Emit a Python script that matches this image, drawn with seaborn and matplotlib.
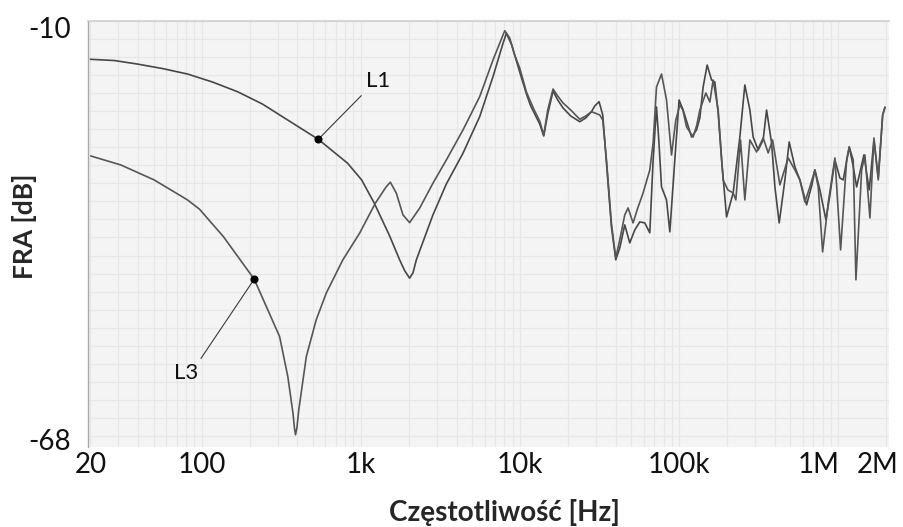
import matplotlib
matplotlib.use('Agg')
import numpy as np
import pandas as pd
import seaborn as sns
import matplotlib.pyplot as plt
from matplotlib.ticker import FixedLocator, LogLocator, NullFormatter
from matplotlib.transforms import ScaledTranslation

## FRA curves (frequency in Hz, amplitude in dB)
l1_freq = [20, 28.3, 39.5, 56.7, 81.5, 117, 168, 241, 347, 541, 827, 1013, 1217,
           1519, 1756, 1888, 2029, 2130, 2236, 2843, 3452, 4391, 5592, 6780, 7837,
           8231, 8890, 9980, 11000, 11700, 12400, 13330, 14130, 14970, 16170, 17300,
           18690, 20890, 23800, 25960, 28190, 29570, 31470, 33200, 35030, 37650,
           40080, 42470, 45640, 49080, 52770, 56740, 61010, 65580, 68800, 72260,
           74700, 77700, 83540, 87630, 94190, 100200, 106200, 120000, 129000,
           135300, 141900, 150400, 160300, 168100, 176400, 185300, 199200, 219100,
           241400, 259500, 279100, 292700, 314700, 338300, 355400, 382200, 400900,
           426600, 463400, 492900, 535500, 575600, 634200, 684800, 715300, 769000,
           838900, 888900, 955600, 1027000, 1077500, 1175500, 1240000, 1308300,
           1392600, 1454000, 1570000, 1681000, 1789000, 1907000, 1971000]
l1_db = [-15.30, -15.47, -15.96, -16.58, -17.34, -18.45, -19.79, -21.50, -23.71,
         -26.39, -29.71, -32.02, -35.25, -39.78, -43.10, -44.60, -45.64, -44.90,
         -43.10, -36.87, -32.58, -28.32, -23.25, -17.71, -13.09, -11.70, -13.32,
         -17.06, -20.11, -21.77, -22.88, -24.27, -25.93, -22.88, -19.70, -20.94,
         -22.05, -23.16, -23.95, -23.43, -22.56, -21.77, -21.18, -23.02, -29.67,
         -38.53, -43.10, -41.44, -38.25, -40.75, -38.95, -37.84, -37.98, -39.36,
         -29.25, -21.91, -26.48, -32.99, -34.79, -39.22, -29.25, -20.94, -22.33,
         -26.07, -25.10, -23.43, -19.14, -16.09, -18.17, -18.45, -22.74, -29.25,
         -37.15, -33.82, -26.07, -18.86, -22.33, -26.07, -27.87, -26.48, -22.33,
         -26.90, -32.99, -37.98, -32.02, -26.76, -30.22, -32.02, -35.48, -32.71,
         -30.64, -33.41, -37.56, -34.10, -29.25, -31.75, -32.02, -27.45, -29.94,
         -32.99, -30.36, -28.56, -33.41, -26.48, -31.75, -23.02, -21.91]

l3_freq = [20.1, 31.0, 50.3, 81.5, 97.0, 137, 214, 255, 309, 348, 375, 383, 389,
           397, 408, 455, 525, 607, 772, 984, 1235, 1448, 1535, 1674, 1842, 2029,
           2345, 2843, 3452, 4391, 5592, 6780, 8033, 8636, 9284, 9980, 11000,
           11700, 12400, 13330, 14130, 14970, 16170, 17300, 18690, 20890, 23800,
           25960, 28190, 29570, 31790, 33200, 35030, 37650, 40080, 42470, 45640,
           47890, 51480, 55120, 59530, 65580, 68800, 72260, 77700, 83540, 89800,
           95560, 101250, 105800, 111600, 117000, 122800, 129500, 135300, 147600,
           156400, 164000, 176400, 189600, 203000, 219100, 227800, 243800, 259500,
           279100, 307500, 338300, 363800, 387800, 430900, 485900, 535500, 575600,
           618800, 665300, 715300, 750400, 799700, 867300, 955600, 1037700,
           1132000, 1175500, 1245500, 1295000, 1407000, 1475000, 1586000, 1681000,
           1789000, 1907000, 1971000]
l3_db = [-28.70, -29.94, -32.02, -34.79, -36.08, -39.88, -45.78, -49.57, -53.73,
         -59.27, -64.34, -66.40, -67.34, -66.40, -63.88, -56.50, -51.41, -47.71,
         -43.10, -39.40, -35.25, -32.95, -32.34, -33.86, -36.87, -37.94, -35.94,
         -32.48, -29.25, -25.10, -20.48, -15.40, -11.34, -12.35, -14.71, -16.51,
         -19.83, -21.22, -22.47, -23.85, -25.79, -22.33, -19.42, -20.39, -21.36,
         -22.33, -23.61, -23.16, -22.56, -22.74, -23.02, -23.71, -29.25, -38.12,
         -42.83, -40.33, -36.87, -35.90, -37.98, -35.90, -33.82, -30.64, -26.90,
         -19.14, -17.34, -20.94, -28.56, -23.71, -21.63, -22.33, -24.68, -25.37,
         -26.07, -24.40, -22.33, -19.97, -21.22, -18.17, -22.33, -32.02, -33.41,
         -33.82, -34.79, -26.48, -34.79, -26.48, -28.14, -26.20, -28.28, -26.48,
         -32.71, -28.98, -30.64, -32.02, -35.07, -32.99, -30.64, -32.99, -41.99,
         -35.21, -28.98, -41.72, -29.25, -27.45, -29.25, -45.87, -30.64, -28.56,
         -37.29, -26.20, -32.02, -23.02, -22.05]

## marker points for the labels
l1_mark = (541, -26.39)
l3_mark = (214, -45.78)

x_ticks  = [20, 100, 1e3, 1e4, 1e5, 1e6, 2e6]
x_labels = ['20', '100', '1k', '10k', '100k', '1M', '2M']
y_ticks  = [-68, -65, -60, -55, -50, -45, -40, -35, -30, -25, -20, -15, -10]
y_labels = ['-68', '', '', '', '', '', '', '', '', '', '', '', '-10']
y_grid   = list(np.arange(-67.5, -10, 2.5))

################################################
sns.set_theme(style='white')
plt.rcParams['font.family'] = ['Lato', 'DejaVu Sans']

fig = plt.figure(figsize=(9.04, 5.27), dpi=100)
ax = fig.add_axes([0.0977, 0.1524, 0.8857, 0.8083])
ax.set_facecolor('#f4f4f4')
ax.set_xscale('log')

data = pd.concat([pd.DataFrame({'freq': l1_freq, 'db': l1_db, 'curve': 'L1'}),
                  pd.DataFrame({'freq': l3_freq, 'db': l3_db, 'curve': 'L3'})])
sns.lineplot(data=data, x='freq', y='db', hue='curve',
             palette={'L1': '#474747', 'L3': '#565656'},
             estimator=None, sort=False, lw=1.2, legend=False, ax=ax, zorder=3)

ax.set_xlim(19.4, 2.09e6)
ax.set_ylim(-69, -9.95)

## ticks and grid
ax.set_xticks(x_ticks, x_labels)
ax.xaxis.set_minor_locator(LogLocator(base=10, subs=range(1, 10), numticks=30))
ax.xaxis.set_minor_formatter(NullFormatter())
ax.set_yticks(y_ticks, y_labels)
ax.yaxis.set_minor_locator(FixedLocator(y_grid))

ax.grid(which='both', color='#e7e7e7', lw=0.9)
ax.set_axisbelow(True)
ax.yaxis.get_major_ticks()[0].gridline.set_visible(False)

ax.tick_params(axis='x', which='major', direction='in', length=4, width=1,
               color='#b8b8b8', labelsize=20, pad=4, labelcolor='#111111')
ax.tick_params(axis='x', which='minor', length=0)
ax.tick_params(axis='y', which='major', direction='out', length=3.5, width=1,
               color='#9a9a9a', labelsize=20, pad=9, labelcolor='#111111')
ax.tick_params(axis='y', which='minor', length=0)

## nudge a few tick labels the way the original has them
def nudge(lab, dx, dy):
  lab.set_transform(lab.get_transform() +
                    ScaledTranslation(dx / 100, dy / 100, fig.dpi_scale_trans))

nudge(ax.yaxis.get_major_ticks()[-1].label1, 0, -6)   # -10
nudge(ax.xaxis.get_major_ticks()[5].label1, -19, 0)   # 1M
nudge(ax.xaxis.get_major_ticks()[6].label1, -8, 0)    # 2M

for s in ['right', 'bottom']:
  ax.spines[s].set_visible(False)
ax.spines['top'].set_color('#cfcfcf')
ax.spines['left'].set_color('#a8a8a8')
ax.spines['top'].set_linewidth(1.2)
ax.spines['left'].set_linewidth(1.0)

## labels
ax.set_xlabel('Częstotliwość [Hz]', fontsize=20, fontweight='bold', va='baseline')
ax.xaxis.set_label_coords(0.5198, -0.1737)
ax.set_ylabel('FRA [dB]', fontsize=19, fontweight='bold', va='center')
ax.yaxis.set_label_coords(-0.0791, 0.5164)

## L1 / L3 call-outs
ax.annotate('L1', xy=l1_mark, xytext=(34, 37.4), textcoords='offset points',
            ha='left', va='baseline', fontsize=16, color='#111111',
            arrowprops=dict(arrowstyle='-', color='#3a3a3a', lw=0.8,
                            shrinkA=1, shrinkB=0, relpos=(0, 0)))
ax.annotate('L3', xy=l3_mark, xytext=(-40.5, -71.8), textcoords='offset points',
            ha='right', va='baseline', fontsize=16, color='#111111',
            arrowprops=dict(arrowstyle='-', color='#3a3a3a', lw=0.8,
                            shrinkA=1, shrinkB=0, relpos=(1, 1)))
ax.plot(*l1_mark, 'o', color='black', ms=4.8, zorder=5)
ax.plot(*l3_mark, 'o', color='black', ms=4.8, zorder=5)

plt.savefig('out.png', dpi=100)
